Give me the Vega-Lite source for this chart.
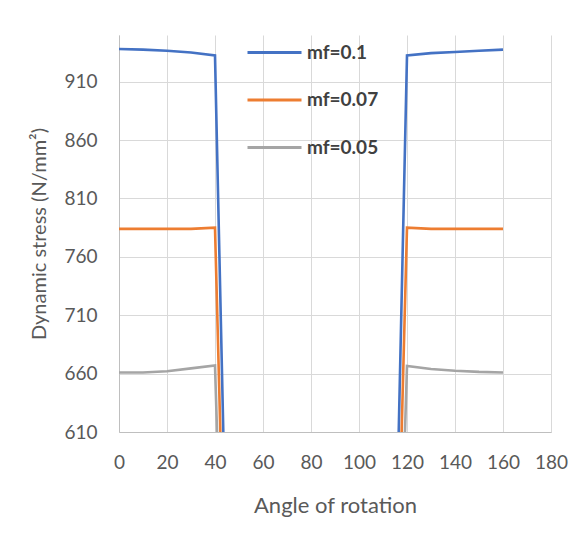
{
  "$schema": "https://vega.github.io/schema/vega-lite/v6.json",
  "width": 432,
  "height": 397,
  "autosize": {"type": "none"},
  "padding": {"left": 119, "top": 35, "right": 31, "bottom": 102},
  "background": "white",
  "config": {
    "font": "Lato",
    "view": {"stroke": null},
    "axis": {"labelColor": "#595959", "titleColor": "#595959", "titleFontWeight": "normal", "gridColor": "#d9d9d9", "domainColor": "#bfbfbf", "ticks": false}
  },
  "data": {
    "values": [
      {"angle": 0, "stress": 938, "series": "mf=0.1"},
      {"angle": 10, "stress": 937.5, "series": "mf=0.1"},
      {"angle": 20, "stress": 936.5, "series": "mf=0.1"},
      {"angle": 30, "stress": 935, "series": "mf=0.1"},
      {"angle": 40, "stress": 932.5, "series": "mf=0.1"},
      {"angle": 50, "stress": 0, "series": "mf=0.1"},
      {"angle": 60, "stress": 0, "series": "mf=0.1"},
      {"angle": 70, "stress": 0, "series": "mf=0.1"},
      {"angle": 80, "stress": 0, "series": "mf=0.1"},
      {"angle": 90, "stress": 0, "series": "mf=0.1"},
      {"angle": 100, "stress": 0, "series": "mf=0.1"},
      {"angle": 110, "stress": 0, "series": "mf=0.1"},
      {"angle": 120, "stress": 932.5, "series": "mf=0.1"},
      {"angle": 130, "stress": 934.5, "series": "mf=0.1"},
      {"angle": 140, "stress": 935.5, "series": "mf=0.1"},
      {"angle": 150, "stress": 936.5, "series": "mf=0.1"},
      {"angle": 160, "stress": 937.5, "series": "mf=0.1"},
      {"angle": 0, "stress": 784, "series": "mf=0.07"},
      {"angle": 10, "stress": 784, "series": "mf=0.07"},
      {"angle": 20, "stress": 784, "series": "mf=0.07"},
      {"angle": 30, "stress": 784, "series": "mf=0.07"},
      {"angle": 40, "stress": 785, "series": "mf=0.07"},
      {"angle": 50, "stress": 0, "series": "mf=0.07"},
      {"angle": 60, "stress": 0, "series": "mf=0.07"},
      {"angle": 70, "stress": 0, "series": "mf=0.07"},
      {"angle": 80, "stress": 0, "series": "mf=0.07"},
      {"angle": 90, "stress": 0, "series": "mf=0.07"},
      {"angle": 100, "stress": 0, "series": "mf=0.07"},
      {"angle": 110, "stress": 0, "series": "mf=0.07"},
      {"angle": 120, "stress": 785, "series": "mf=0.07"},
      {"angle": 130, "stress": 784, "series": "mf=0.07"},
      {"angle": 140, "stress": 784, "series": "mf=0.07"},
      {"angle": 150, "stress": 784, "series": "mf=0.07"},
      {"angle": 160, "stress": 784, "series": "mf=0.07"},
      {"angle": 0, "stress": 661, "series": "mf=0.05"},
      {"angle": 10, "stress": 661, "series": "mf=0.05"},
      {"angle": 20, "stress": 662, "series": "mf=0.05"},
      {"angle": 30, "stress": 664.5, "series": "mf=0.05"},
      {"angle": 40, "stress": 667, "series": "mf=0.05"},
      {"angle": 50, "stress": 0, "series": "mf=0.05"},
      {"angle": 60, "stress": 0, "series": "mf=0.05"},
      {"angle": 70, "stress": 0, "series": "mf=0.05"},
      {"angle": 80, "stress": 0, "series": "mf=0.05"},
      {"angle": 90, "stress": 0, "series": "mf=0.05"},
      {"angle": 100, "stress": 0, "series": "mf=0.05"},
      {"angle": 110, "stress": 0, "series": "mf=0.05"},
      {"angle": 120, "stress": 666.5, "series": "mf=0.05"},
      {"angle": 130, "stress": 664, "series": "mf=0.05"},
      {"angle": 140, "stress": 662.5, "series": "mf=0.05"},
      {"angle": 150, "stress": 661.5, "series": "mf=0.05"},
      {"angle": 160, "stress": 661, "series": "mf=0.05"}
    ]
  },
  "mark": {"type": "line", "clip": true, "strokeWidth": 2.6},
  "encoding": {
    "x": {
      "field": "angle", "type": "quantitative",
      "scale": {"domain": [0, 180], "nice": false},
      "axis": {"values": [0, 20, 40, 60, 80, 100, 120, 140, 160, 180], "title": "Angle of rotation", "labelFontSize": 19, "titleFontSize": 22, "labelPadding": 21, "titlePadding": 23, "grid": true, "labelFlush": false}
    },
    "y": {
      "field": "stress", "type": "quantitative",
      "scale": {"domain": [610, 950], "nice": false, "zero": false},
      "axis": {"values": [610, 660, 710, 760, 810, 860, 910], "title": "Dynamic stress (N/mm²)", "labelFontSize": 19, "titleFontSize": 20, "labelPadding": 22, "titlePadding": 14, "grid": true}
    },
    "color": {
      "field": "series", "type": "nominal",
      "scale": {"domain": ["mf=0.1", "mf=0.07", "mf=0.05"], "range": ["#4472C4", "#ED7D31", "#A5A5A5"]},
      "legend": {"title": null, "orient": "none", "legendX": 127, "legendY": -11, "symbolType": "stroke", "symbolSize": 2916, "symbolStrokeWidth": 3, "labelFontSize": 19, "labelFontWeight": "bold", "labelColor": "#404040", "labelOffset": 4, "rowPadding": 8.5}
    }
  }
}
